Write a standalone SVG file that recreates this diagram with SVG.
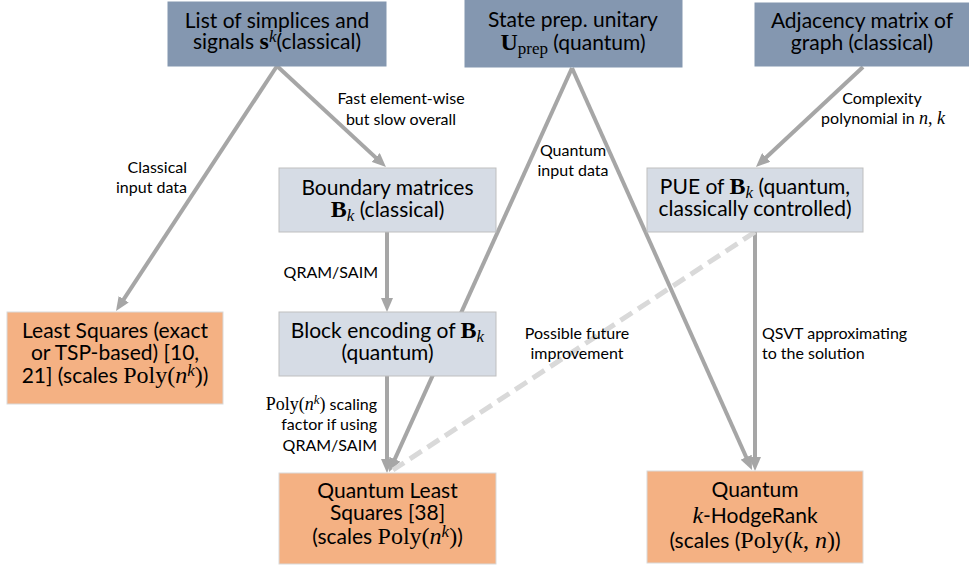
<svg xmlns="http://www.w3.org/2000/svg" width="969" height="566" viewBox="0 0 969 566">
<style>
.bg{fill:#ffffff}
.top{fill:#8497B0;stroke:#8497B0;stroke-width:1}
.mid{fill:#D6DCE5;stroke:#BFBFBF;stroke-width:1}
.out{fill:#F4B183;stroke:#D9D9D9;stroke-width:1}
.bt{font-family:Lato,"Liberation Sans",sans-serif;font-size:21px;fill:#000;text-anchor:middle}
.lb{font-family:Lato,"Liberation Sans",sans-serif;font-size:16px;fill:#000}
.m{font-family:"Liberation Serif",serif}
.bt .m{font-size:24px}
.lb .m{font-size:18px}
.bt .sm{font-size:17px}
.lb .sm{font-size:13px}
.b{font-weight:bold}
.i{font-style:italic}
.arr{stroke:#A6A6A6;stroke-width:4;fill:none;marker-end:url(#ah)}
.dash{stroke:#D9D9D9;stroke-width:5;fill:none;stroke-dasharray:14 7}
</style>
<defs>
<marker id="ah" markerUnits="userSpaceOnUse" markerWidth="14" markerHeight="12" refX="6" refY="6" orient="auto">
<path d="M0,0 L14,6 L0,12 z" fill="#A6A6A6"/>
</marker>
</defs>
<rect class="bg" x="0" y="0" width="969" height="566"/>
<g id="connectors">
<line class="arr" x1="277" y1="66" x2="120.4" y2="304.3"/>
<line class="arr" x1="277" y1="66" x2="380.1" y2="161.6"/>
<line class="arr" x1="387" y1="232" x2="387" y2="304"/>
<line class="arr" x1="572" y1="68" x2="392.3" y2="464.7"/>
<line class="arr" x1="387" y1="376" x2="387" y2="465"/>
<line class="arr" x1="572" y1="68" x2="748.7" y2="462.7"/>
<line class="arr" x1="863" y1="67" x2="761.8" y2="161.5"/>
<line class="arr" x1="755" y1="232" x2="755" y2="463"/>
<line class="dash" x1="755" y1="232" x2="393" y2="470"/>
</g>
<g id="labels">
<text class="lb" text-anchor="end"><tspan x="187" y="173">Classical</tspan><tspan x="187" y="193">input data</tspan></text>
<text class="lb" text-anchor="middle"><tspan x="401" y="104">Fast element-wise</tspan><tspan x="401" y="125">but slow overall</tspan></text>
<text class="lb" text-anchor="middle"><tspan x="573" y="156">Quantum</tspan><tspan x="573" y="176">input data</tspan></text>
<text class="lb" text-anchor="middle"><tspan x="882" y="104">Complexity</tspan><tspan x="883" y="124">polynomial in <tspan class="m i">n</tspan><tspan class="m">, </tspan><tspan class="m i">k</tspan></tspan></text>
<text class="lb" text-anchor="end" x="378" y="278">QRAM/SAIM</text>
<text class="lb" text-anchor="middle"><tspan x="577" y="339">Possible future</tspan><tspan x="577" y="359">improvement</tspan></text>
<text class="lb"><tspan x="762" y="339">QSVT approximating</tspan><tspan x="762" y="359">to the solution</tspan></text>
<text class="lb" text-anchor="end"><tspan x="377" y="410"><tspan class="m">Poly(</tspan><tspan class="m i">n</tspan><tspan class="m i sm" baseline-shift="6">k</tspan><tspan class="m">)</tspan> scaling</tspan><tspan x="377" y="430">factor if using</tspan><tspan x="377" y="451">QRAM/SAIM</tspan></text>
</g>
<g id="n-simplices">
<rect class="top" x="168" y="2" width="218" height="64"/>
<text class="bt"><tspan x="277" y="28">List of simplices and</tspan><tspan x="277" y="49">signals <tspan class="m b">s</tspan><tspan class="m i sm" baseline-shift="7">k</tspan>(classical)</tspan></text>
</g>
<g id="n-uprep">
<rect class="top" x="465" y="0" width="217" height="67"/>
<text class="bt"><tspan x="573" y="27">State prep. unitary</tspan><tspan x="573" y="50"><tspan class="m b">U</tspan><tspan class="m sm" baseline-shift="-4">prep</tspan> (quantum)</tspan></text>
</g>
<g id="n-adjacency">
<rect class="top" x="755" y="3" width="214" height="63"/>
<text class="bt"><tspan x="862" y="28">Adjacency matrix of</tspan><tspan x="862" y="50">graph (classical)</tspan></text>
</g>
<g id="n-boundary">
<rect class="mid" x="279" y="168" width="217" height="64"/>
<text class="bt"><tspan x="387.5" y="195">Boundary matrices</tspan><tspan x="387.5" y="217"><tspan class="m b">B</tspan><tspan class="m i sm" baseline-shift="-4">k</tspan> (classical)</tspan></text>
</g>
<g id="n-pue">
<rect class="mid" x="647" y="168" width="216" height="64"/>
<text class="bt"><tspan x="755" y="194">PUE of <tspan class="m b">B</tspan><tspan class="m i sm" baseline-shift="-4">k</tspan> (quantum,</tspan><tspan x="755" y="216">classically controlled)</tspan></text>
</g>
<g id="n-lsq">
<rect class="out" x="7" y="312" width="216" height="92"/>
<text class="bt"><tspan x="115" y="338">Least Squares (exact</tspan><tspan x="115" y="360">or TSP-based) [10,</tspan><tspan x="115" y="383">21] (scales <tspan class="m">Poly(</tspan><tspan class="m i">n</tspan><tspan class="m i sm" baseline-shift="7">k</tspan><tspan class="m">)</tspan>)</tspan></text>
</g>
<g id="n-block">
<rect class="mid" x="279" y="312" width="217" height="64"/>
<text class="bt"><tspan x="387.5" y="338">Block encoding of <tspan class="m b">B</tspan><tspan class="m i sm" baseline-shift="-4">k</tspan></tspan><tspan x="387.5" y="360">(quantum)</tspan></text>
</g>
<g id="n-qlsq">
<rect class="out" x="279" y="473" width="217" height="91"/>
<text class="bt"><tspan x="387.5" y="498">Quantum Least</tspan><tspan x="387.5" y="520">Squares [38]</tspan><tspan x="387.5" y="544">(scales <tspan class="m">Poly(</tspan><tspan class="m i">n</tspan><tspan class="m i sm" baseline-shift="7">k</tspan><tspan class="m">)</tspan>)</tspan></text>
</g>
<g id="n-hodge">
<rect class="out" x="647" y="471" width="216" height="92"/>
<text class="bt"><tspan x="755" y="497">Quantum</tspan><tspan x="755" y="523"><tspan class="m i">k</tspan>-HodgeRank</tspan><tspan x="755" y="548">(scales (<tspan class="m">Poly(</tspan><tspan class="m i">k</tspan><tspan class="m">, </tspan><tspan class="m i">n</tspan><tspan class="m">)</tspan>)</tspan></text>
</g>
</svg>
